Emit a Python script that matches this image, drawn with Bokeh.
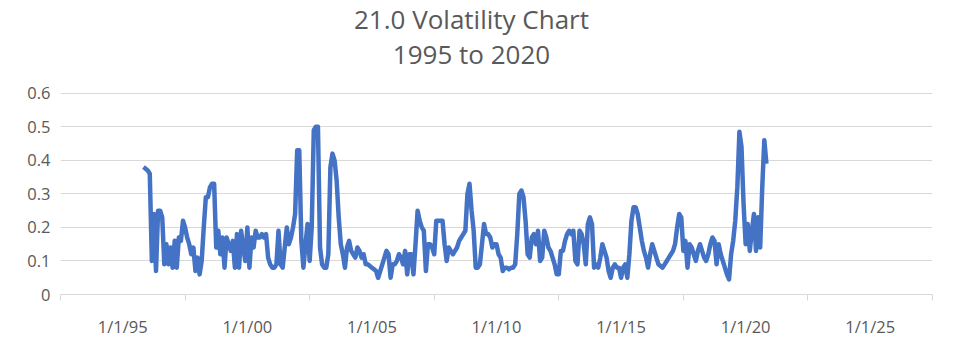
from bokeh.plotting import figure
from bokeh.models import FixedTicker, Range1d, NumeralTickFormatter, Label
from bokeh.embed import file_html
from bokeh.resources import INLINE

# ---- data: monthly 21-day volatility readings, Nov 1995 .. Nov 2020 ----
start_year = 1995
start_month = 11
vol_1995 = [0.38, 0.375]
vol_1996 = [0.37, 0.36, 0.10, 0.24, 0.07, 0.25, 0.25, 0.23, 0.09, 0.15, 0.09, 0.14]
vol_1997 = [0.08, 0.16, 0.08, 0.17, 0.16, 0.22, 0.20, 0.17, 0.15, 0.12, 0.14, 0.07]
vol_1998 = [0.11, 0.06, 0.10, 0.20, 0.29, 0.29, 0.32, 0.33, 0.33, 0.14, 0.19, 0.12]
vol_1999 = [0.17, 0.08, 0.17, 0.15, 0.13, 0.16, 0.08, 0.18, 0.08, 0.19, 0.14, 0.10]
vol_2000 = [0.20, 0.08, 0.17, 0.14, 0.19, 0.17, 0.17, 0.18, 0.17, 0.18, 0.11, 0.09]
vol_2001 = [0.08, 0.08, 0.09, 0.19, 0.09, 0.08, 0.14, 0.20, 0.15, 0.17, 0.20, 0.24]
vol_2002 = [0.43, 0.43, 0.16, 0.08, 0.15, 0.21, 0.10, 0.20, 0.49, 0.50, 0.50, 0.14]
vol_2003 = [0.09, 0.08, 0.08, 0.12, 0.38, 0.42, 0.40, 0.34, 0.23, 0.15, 0.12, 0.08]
vol_2004 = [0.14, 0.16, 0.13, 0.12, 0.11, 0.14, 0.13, 0.11, 0.12, 0.09, 0.09, 0.085]
vol_2005 = [0.08, 0.075, 0.07, 0.05, 0.07, 0.09, 0.11, 0.13, 0.12, 0.05, 0.09, 0.09]
vol_2006 = [0.10, 0.12, 0.11, 0.09, 0.13, 0.06, 0.12, 0.12, 0.06, 0.15, 0.25, 0.22]
vol_2007 = [0.20, 0.19, 0.07, 0.15, 0.15, 0.14, 0.12, 0.22, 0.22, 0.22, 0.22, 0.15]
vol_2008 = [0.10, 0.14, 0.13, 0.12, 0.13, 0.14, 0.16, 0.17, 0.18, 0.19, 0.30, 0.33]
vol_2009 = [0.25, 0.19, 0.08, 0.08, 0.09, 0.15, 0.21, 0.18, 0.18, 0.17, 0.14, 0.15]
vol_2010 = [0.15, 0.12, 0.11, 0.07, 0.08, 0.08, 0.075, 0.08, 0.08, 0.09, 0.18, 0.30]
vol_2011 = [0.31, 0.29, 0.22, 0.12, 0.11, 0.17, 0.18, 0.15, 0.19, 0.10, 0.11, 0.19]
vol_2012 = [0.17, 0.14, 0.13, 0.11, 0.09, 0.06, 0.06, 0.13, 0.13, 0.16, 0.18, 0.19]
vol_2013 = [0.18, 0.19, 0.10, 0.09, 0.19, 0.18, 0.15, 0.09, 0.21, 0.23, 0.21, 0.08]
vol_2014 = [0.09, 0.08, 0.11, 0.15, 0.13, 0.11, 0.07, 0.05, 0.08, 0.09, 0.08, 0.08]
vol_2015 = [0.05, 0.08, 0.09, 0.05, 0.12, 0.22, 0.26, 0.26, 0.24, 0.20, 0.16, 0.13]
vol_2016 = [0.11, 0.08, 0.12, 0.15, 0.13, 0.11, 0.09, 0.085, 0.08, 0.09, 0.10, 0.11]
vol_2017 = [0.12, 0.13, 0.15, 0.20, 0.24, 0.23, 0.13, 0.16, 0.08, 0.15, 0.14, 0.12]
vol_2018 = [0.10, 0.13, 0.15, 0.13, 0.11, 0.10, 0.12, 0.15, 0.17, 0.16, 0.09, 0.15]
vol_2019 = [0.12, 0.10, 0.08, 0.06, 0.045, 0.12, 0.16, 0.22, 0.32, 0.485, 0.44, 0.27]
vol_2020 = [0.15, 0.21, 0.13, 0.19, 0.24, 0.13, 0.23, 0.14, 0.32, 0.46, 0.39]

label_years = [1995, 2000, 2005, 2010, 2015, 2020, 2025]
tick_labels = ["1/1/95", "1/1/00", "1/1/05", "1/1/10", "1/1/15", "1/1/20", "1/1/25"]
y_ticks = [0, 0.1, 0.2, 0.3, 0.4, 0.5, 0.6]
title_line1 = "21.0 Volatility Chart"
title_line2 = "1995 to 2020"

values = (vol_1995 + vol_1996 + vol_1997 + vol_1998 + vol_1999 + vol_2000 + vol_2001 +
          vol_2002 + vol_2003 + vol_2004 + vol_2005 + vol_2006 + vol_2007 + vol_2008 +
          vol_2009 + vol_2010 + vol_2011 + vol_2012 + vol_2013 + vol_2014 + vol_2015 +
          vol_2016 + vol_2017 + vol_2018 + vol_2019 + vol_2020)
dates = [start_year + (start_month - 1 + i) / 12.0 for i in range(len(values))]

TEXT = "#595959"
GRID = "#d9d9d9"
FONT = "Open Sans"

# layout: the plotting frame reaches the top of the canvas so the two title
# lines can sit inside it; the value scale keeps 0..0.6 over the lower 204 px
FRAME_H = 298
VALUE_H = 204
y_top = y_ticks[-1] * FRAME_H / VALUE_H

p = figure(width=938, height=340, output_backend="svg", toolbar_location=None,
           x_range=Range1d(label_years[0] - 2.5, label_years[-1] + 2.5),
           y_range=Range1d(0, y_top),
           min_border_left=60, min_border_right=6, min_border_top=0, min_border_bottom=42)
p.outline_line_color = None
p.background_fill_color = "white"
p.border_fill_color = "white"

p.line(dates, values, line_color="#4472C4", line_width=4.5, line_join="round")

# x axis: labels centred in 5-year bins, tick marks at bin edges
xa = p.xaxis[0]
xa.ticker = FixedTicker(ticks=label_years,
                        minor_ticks=[y - 2.5 for y in label_years] + [label_years[-1] + 2.5])
xa.major_label_overrides = {y: t for y, t in zip(label_years, tick_labels)}
xa.major_tick_line_color = None
xa.major_tick_out = 0
xa.major_tick_in = 0
xa.minor_tick_line_color = GRID
xa.minor_tick_out = 6
xa.minor_tick_in = 0
xa.axis_line_color = GRID
xa.axis_line_width = 1
xa.major_label_standoff = 14
xa.major_label_text_font = FONT
xa.major_label_text_font_size = "16.5px"
xa.major_label_text_color = TEXT

ya = p.yaxis[0]
ya.ticker = FixedTicker(ticks=y_ticks)
ya.formatter = NumeralTickFormatter(format="0.[0]")
ya.axis_line_color = None
ya.major_tick_line_color = None
ya.minor_tick_line_color = None
ya.major_tick_out = 0
ya.major_tick_in = 0
ya.major_label_standoff = 10
ya.major_label_text_font = FONT
ya.major_label_text_font_size = "16.5px"
ya.major_label_text_color = TEXT

p.xgrid.grid_line_color = None
p.ygrid.ticker = FixedTicker(ticks=y_ticks[1:])
p.ygrid.grid_line_color = GRID
p.ygrid.grid_line_width = 1

for txt, yy in ((title_line1, 276), (title_line2, 241)):
    p.add_layout(Label(x=411, y=yy, x_units="screen", y_units="screen", text=txt,
                       text_align="center", text_baseline="middle",
                       text_font=FONT, text_font_size="26px", text_color=TEXT))

open("out.html", "w").write(file_html(p, INLINE))
